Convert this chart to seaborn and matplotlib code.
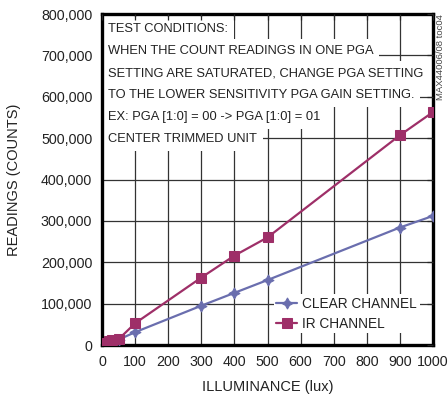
import numpy as np
import pandas as pd
import matplotlib
matplotlib.use("Agg")
import matplotlib.pyplot as plt
import seaborn as sns
from matplotlib.ticker import FuncFormatter

# data
lux = [0, 10, 20, 30, 50, 100, 300, 400, 500, 900, 1000]
clear_counts = [800, 3000, 5500, 7500, 13000, 31000, 95000, 126000, 157000, 284000, 312000]
ir_counts = [1500, 5000, 9000, 13000, 14000, 52500, 163000, 216000, 260000, 507000, 563000]

notes = ["TEST CONDITIONS:",
         "WHEN THE COUNT READINGS IN ONE PGA",
         "SETTING ARE SATURATED, CHANGE PGA SETTING",
         "TO THE LOWER SENSITIVITY PGA GAIN SETTING.",
         "EX: PGA [1:0] = 00 -> PGA [1:0] = 01",
         "CENTER TRIMMED UNIT"]

clear_col = "#6a6eae"
ir_col = "#9e2f68"
txt_col = "#222222"

sns.set_style("white")
plt.rcParams['font.family'] = ['Liberation Sans', 'DejaVu Sans']

fig = plt.figure(figsize=(4.48, 4.07), dpi=100)
ax = fig.add_axes([0.2277, 0.1523, 0.7388, 0.8133])

df = pd.DataFrame({"lux": lux, "clear": clear_counts, "ir": ir_counts})
sns.lineplot(data=df, x="lux", y="clear", ax=ax, color=clear_col, lw=1.6,
             marker=(4, 1, 0), markersize=8, markeredgecolor=clear_col,
             label="CLEAR CHANNEL", zorder=4)
sns.lineplot(data=df, x="lux", y="ir", ax=ax, color=ir_col, lw=1.6,
             marker="s", markersize=6.5, markeredgecolor=ir_col,
             label="IR CHANNEL", zorder=4)

ax.set_xlim(0, 1000)
ax.set_ylim(0, 800000)
ax.set_xticks(np.arange(0, 1001, 100))
ax.set_yticks(np.arange(0, 800001, 100000))
ax.yaxis.set_major_formatter(FuncFormatter(lambda v, p: "{:,}".format(int(v))))

# grid drawn by hand so the notes can hide it while the ticks stay on top
ax.grid(False)
ax.vlines(ax.get_xticks()[1:-1], 0, 800000, color="#333333", lw=0.9, zorder=0.5)
ax.hlines(ax.get_yticks()[1:-1], 0, 1000, color="#333333", lw=0.9, zorder=0.5)
ax.set_axisbelow(False)

for s in ax.spines.values():
    s.set_linewidth(2.4)
    s.set_color("black")
ax.tick_params(direction="in", length=4, width=0.9, top=True, right=True,
               labelsize=10.3, labelcolor=txt_col, pad=7)

ax.set_xlabel("ILLUMINANCE (lux)", fontsize=10.5, color=txt_col, labelpad=8)
ax.set_ylabel("READINGS (COUNTS)", fontsize=10.5, color=txt_col, labelpad=14)

for i, line in enumerate(notes):
    ax.text(0.018, 0.955 - i * 0.0667, line, transform=ax.transAxes,
            fontsize=9.3, color=txt_col, va="center", ha="left", zorder=2,
            bbox=dict(boxstyle="square,pad=0.45", fc="white", ec="none"))

leg = ax.legend(loc="lower right", bbox_to_anchor=(0.96, 0.035), fontsize=9.8,
                frameon=True, framealpha=1, edgecolor="none", fancybox=False,
                handlelength=1.5, handletextpad=0.4, borderpad=0.2,
                labelspacing=0.45, borderaxespad=0)
for t in leg.get_texts():
    t.set_color(txt_col)

fig.text(0.984, 0.965, "MAX44006/08 toc04", rotation=90, fontsize=6.8,
         color="#444444", ha="center", va="top")

fig.savefig("out.png", dpi=100)
